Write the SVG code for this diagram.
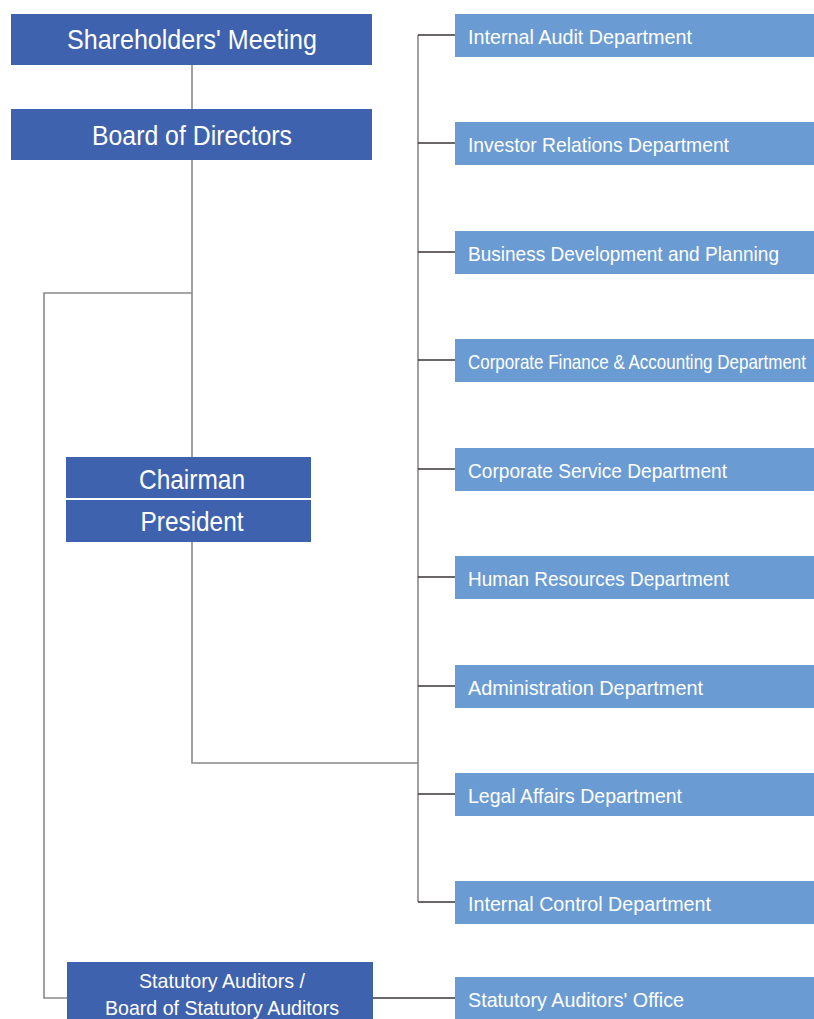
<svg xmlns="http://www.w3.org/2000/svg" width="814" height="1019" viewBox="0 0 814 1019">
<style>
.dk{fill:#3F62AE}
.lt{fill:#6B9BD3}
.t{font-family:"Liberation Sans","Open Sans",sans-serif;fill:#fff}
.big{font-size:28px;text-anchor:middle}
.sm{font-size:21px}
.mid{font-size:21px;text-anchor:middle}
.v{stroke:#8a8888;stroke-width:1.6;fill:none}
.h{stroke:#3a3535;stroke-width:1.4;fill:none}
</style>
<rect width="814" height="1019" fill="#fff"/>
<g id="connectors">
<line class="v" x1="192" y1="65" x2="192" y2="109"/>
<line class="v" x1="192" y1="160" x2="192" y2="457"/>
<polyline class="v" points="192,293 44,293 44,998 67,998"/>
<polyline class="v" points="192,542 192,763 418,763"/>
<line class="v" x1="418" y1="35" x2="418" y2="902"/>
<line class="h" x1="418" y1="35" x2="455" y2="35"/>
<line class="h" x1="418" y1="143" x2="455" y2="143"/>
<line class="h" x1="418" y1="252" x2="455" y2="252"/>
<line class="h" x1="418" y1="360" x2="455" y2="360"/>
<line class="h" x1="418" y1="469" x2="455" y2="469"/>
<line class="h" x1="418" y1="577" x2="455" y2="577"/>
<line class="h" x1="418" y1="686" x2="455" y2="686"/>
<line class="h" x1="418" y1="794" x2="455" y2="794"/>
<line class="h" x1="418" y1="902" x2="455" y2="902"/>
<line class="h" x1="373" y1="998" x2="455" y2="998"/>
</g>
<g id="shareholders"><rect class="dk" x="11" y="14" width="361" height="51"/><text class="t big" x="192" y="49" textLength="250" lengthAdjust="spacingAndGlyphs">Shareholders' Meeting</text></g>
<g id="board"><rect class="dk" x="11" y="109" width="361" height="51"/><text class="t big" x="192" y="145" textLength="200" lengthAdjust="spacingAndGlyphs">Board of Directors</text></g>
<g id="chairman"><rect class="dk" x="66" y="457" width="245" height="41"/><text class="t big" x="192" y="489" textLength="106" lengthAdjust="spacingAndGlyphs">Chairman</text></g>
<g id="president"><rect class="dk" x="66" y="500" width="245" height="42"/><text class="t big" x="192" y="531" textLength="103" lengthAdjust="spacingAndGlyphs">President</text></g>
<g id="statutory-auditors"><rect class="dk" x="67" y="962" width="306" height="57"/><text class="t mid" x="222" y="988" textLength="166" lengthAdjust="spacingAndGlyphs">Statutory Auditors /</text><text class="t mid" x="222" y="1015" textLength="234" lengthAdjust="spacingAndGlyphs">Board of Statutory Auditors</text></g>
<g id="internal-audit"><rect class="lt" x="455" y="14" width="359" height="43"/><text class="t sm" x="468" y="44" textLength="224" lengthAdjust="spacingAndGlyphs">Internal Audit Department</text></g>
<g id="investor-relations"><rect class="lt" x="455" y="122" width="359" height="43"/><text class="t sm" x="468" y="152" textLength="261" lengthAdjust="spacingAndGlyphs">Investor Relations Department</text></g>
<g id="business-development"><rect class="lt" x="455" y="231" width="359" height="43"/><text class="t sm" x="468" y="261" textLength="311" lengthAdjust="spacingAndGlyphs">Business Development and Planning</text></g>
<g id="corporate-finance"><rect class="lt" x="455" y="339" width="359" height="43"/><text class="t sm" x="468" y="369" textLength="338" lengthAdjust="spacingAndGlyphs">Corporate Finance &amp; Accounting Department</text></g>
<g id="corporate-service"><rect class="lt" x="455" y="448" width="359" height="43"/><text class="t sm" x="468" y="478" textLength="259" lengthAdjust="spacingAndGlyphs">Corporate Service Department</text></g>
<g id="human-resources"><rect class="lt" x="455" y="556" width="359" height="43"/><text class="t sm" x="468" y="586" textLength="261" lengthAdjust="spacingAndGlyphs">Human Resources Department</text></g>
<g id="administration"><rect class="lt" x="455" y="665" width="359" height="43"/><text class="t sm" x="468" y="695" textLength="235" lengthAdjust="spacingAndGlyphs">Administration Department</text></g>
<g id="legal-affairs"><rect class="lt" x="455" y="773" width="359" height="43"/><text class="t sm" x="468" y="803" textLength="214" lengthAdjust="spacingAndGlyphs">Legal Affairs Department</text></g>
<g id="internal-control"><rect class="lt" x="455" y="881" width="359" height="43"/><text class="t sm" x="468" y="911" textLength="243" lengthAdjust="spacingAndGlyphs">Internal Control Department</text></g>
<g id="statutory-office"><rect class="lt" x="455" y="977" width="359" height="42"/><text class="t sm" x="468" y="1007" textLength="216" lengthAdjust="spacingAndGlyphs">Statutory Auditors' Office</text></g>
</svg>
